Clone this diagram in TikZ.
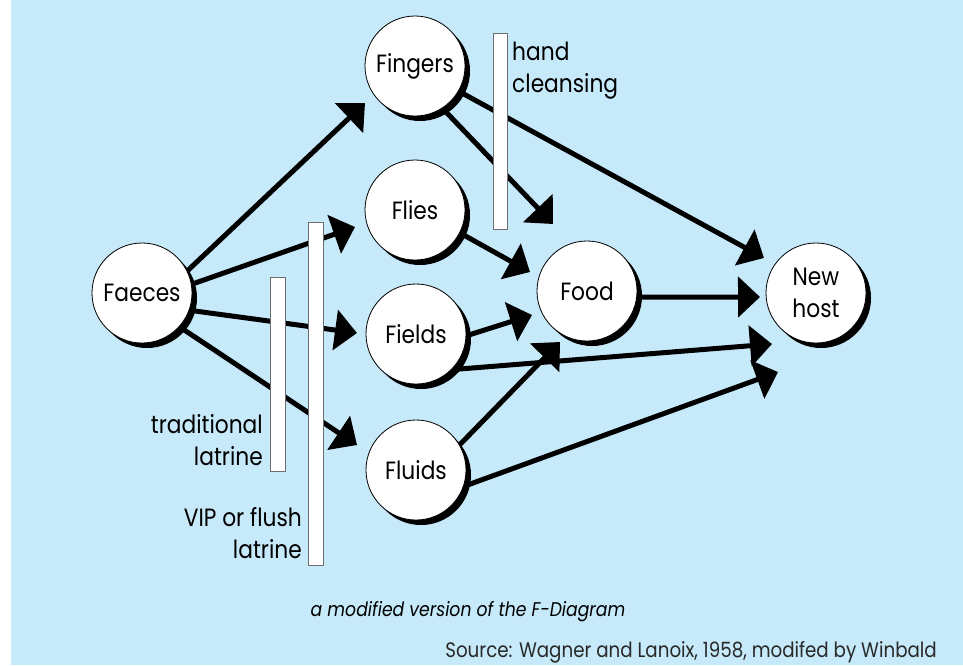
\documentclass[tikz,border=0pt]{standalone}
\usepackage{fontspec}
\setmainfont{Poppins}[FakeStretch=0.87]
\usetikzlibrary{arrows.meta,shadows}
\definecolor{bg}{RGB}{198,234,249}
\definecolor{bargray}{RGB}{110,110,110}
\definecolor{srcgray}{RGB}{40,40,40}
\newcommand\fsz{\fontsize{25}{32}\selectfont}
\newcommand\capsz{\fontsize{19.8}{24}\selectfont}
\newcommand\srcsz{\fontsize{21}{25}\selectfont}
\pgfdeclarelayer{back}
\pgfdeclarelayer{mid}
\pgfsetlayers{back,mid,main}
\begin{document}
\begin{tikzpicture}[x=1pt,y=-1pt,
  fnode/.style={circle, draw=black, line width=0.8pt, fill=white, minimum size=100pt,
    inner sep=0pt, align=center, font=\fsz,
    drop shadow={shadow xshift=5pt, shadow yshift=-5pt, fill=black, opacity=1}},
  flow/.style={line width=5pt, -{Triangle[length=22pt,width=40pt]}},
  bar/.style={draw=bargray, fill=white, line width=0.8pt},
  lbl/.style={font=\fsz, inner sep=0pt}]
\useasboundingbox (0,0) rectangle (963,665);
\begin{pgfonlayer}{back}
  \fill[white] (0,0) rectangle (963,665);
  \fill[bg] (11,0) rectangle (963,665);
\end{pgfonlayer}

% nodes
\node[fnode] (faeces) at (142,293) {Faeces};
\node[fnode] (fingers) at (415,66) {Fingers};
\node[fnode] (flies) at (415,210) {Flies};
\node[fnode] (fields) at (416,334) {Fields};
\node[fnode] (fluids) at (416,470) {Fluids};
\node[fnode] (food) at (587,291) {Food};
\node[fnode] (newhost) at (816,293) {New\\host};

% arrow tips
\coordinate (t1) at (365,103);
\coordinate (t2) at (355,227);
\coordinate (t3) at (357,333);
\coordinate (t4) at (357,445);
\coordinate (t5) at (553,224);
\coordinate (t6) at (764,258);
\coordinate (t7) at (530,272);
\coordinate (t8) at (532,315);
\coordinate (t9) at (772,344);
\coordinate (t10) at (560,342);
\coordinate (t11) at (778,372);
\coordinate (t12) at (760,297);

\begin{pgfonlayer}{mid}
  \draw[flow] (faeces.26) -- (t1);
  \draw[flow] (faeces.10) -- (t2);
  \draw[flow] (faeces.-20) -- (t3);
  \draw[flow] (faeces.-42) -- (t4);
  \draw[flow] (fingers.-57) -- (t5);
  \draw[flow] (fingers.-30) -- (t6);
  \draw[flow] (flies.-27) -- (t7);
  \draw[flow] (fields.-2) -- (t8);
  \draw[flow] (fields.-45) -- (t9);
  \draw[flow] (fluids.30) -- (t10);
  \draw[flow] (fluids.-19) -- (t11);
  \draw[flow] (food.-7) -- (t12);
  % barriers
  \draw[bar] (493,33) rectangle (507,229);
  \draw[bar] (270,277) rectangle (285,471);
  \draw[bar] (308,222) rectangle (323,565);
\end{pgfonlayer}

% labels
\node[lbl, anchor=base west, align=left] (hand) at (512,92) {hand\\cleansing};
\node[lbl, anchor=base east, align=right] (trad) at (263,465) {traditional\\latrine};
\node[lbl, anchor=base east, align=right] (vip) at (302,558) {VIP or flush\\latrine};
\node[font=\capsz\itshape, anchor=base, inner sep=0pt] (cap) at (468,616) {a modified version of the F-Diagram};
\node[font=\srcsz, text=srcgray, anchor=base east, inner sep=0pt] (src) at (937,657) {Source: Wagner and Lanoix, 1958, modifed by Winbald};
\end{tikzpicture}
\end{document}
